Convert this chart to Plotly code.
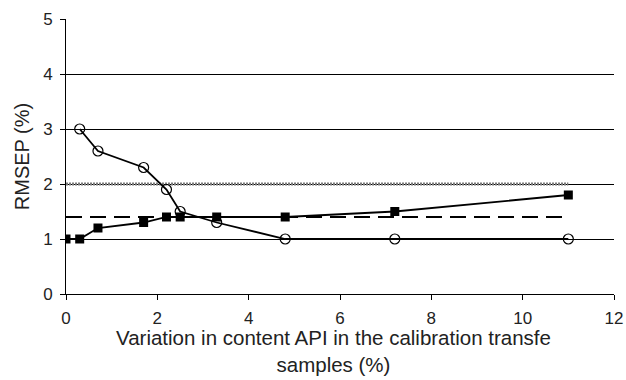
import plotly.graph_objects as go

x_circ = [0.3, 0.7, 1.7, 2.2, 2.5, 3.3, 4.8, 7.2, 11]
y_circ = [3.0, 2.6, 2.3, 1.9, 1.5, 1.3, 1.0, 1.0, 1.0]
x_sq = [0, 0.3, 0.7, 1.7, 2.2, 2.5, 3.3, 4.8, 7.2, 11]
y_sq = [1.0, 1.0, 1.2, 1.3, 1.4, 1.4, 1.4, 1.4, 1.5, 1.8]
ref_x = [0, 11]
ref_dotted = [2, 2]
ref_dashed = [1.4, 1.4]
x_ticks = [0, 2, 4, 6, 8, 10, 12]
y_ticks = [0, 1, 2, 3, 4, 5]
x_title = "Variation in content API in the calibration transfe<br>samples (%)"
y_title = "RMSEP (%)"

fig = go.Figure()
fig.add_trace(go.Scatter(x=ref_x, y=ref_dotted, mode="lines",
                         line=dict(color="#7a7a7a", width=3, dash="2px,1px")))
fig.add_trace(go.Scatter(x=ref_x, y=ref_dashed, mode="lines",
                         line=dict(color="black", width=1.8, dash="16px,8px")))
fig.add_trace(go.Scatter(x=x_circ, y=y_circ, mode="lines+markers",
                         line=dict(color="black", width=1.8),
                         marker=dict(symbol="circle-open", size=10, color="black",
                                     line=dict(width=1.2, color="black"))))
fig.add_trace(go.Scatter(x=x_sq, y=y_sq, mode="lines+markers",
                         line=dict(color="black", width=1.8),
                         marker=dict(symbol="square", size=9, color="black")))

fig.update_layout(
    width=626, height=380,
    margin=dict(l=66, r=12, t=19, b=86, autoexpand=False),
    paper_bgcolor="white", plot_bgcolor="white",
    showlegend=False,
    font=dict(family="Liberation Sans, Arial, sans-serif", size=17, color="#222"),
)
fig.add_annotation(text=x_title, xref="paper", yref="paper", x=0.5, y=0,
                   xanchor="center", yanchor="top", xshift=-7, yshift=-31,
                   showarrow=False, align="center", borderpad=0,
                   font=dict(size=20.5, color="#222"))
fig.update_xaxes(range=[0, 12], tickvals=x_ticks, showgrid=False, zeroline=False,
                 showline=True, linecolor="black", linewidth=1,
                 ticks="outside", ticklen=5, tickcolor="black",
                 ticklabelstandoff=4, automargin=False)
fig.update_yaxes(range=[0, 5], tickvals=y_ticks, showgrid=True, gridcolor="black",
                 gridwidth=1, zeroline=False,
                 showline=True, linecolor="black", linewidth=1,
                 ticks="outside", ticklen=5, tickcolor="black",
                 ticklabelstandoff=4, automargin=False,
                 title=dict(text=y_title, font=dict(size=20), standoff=8))

fig.write_html("out.html")
